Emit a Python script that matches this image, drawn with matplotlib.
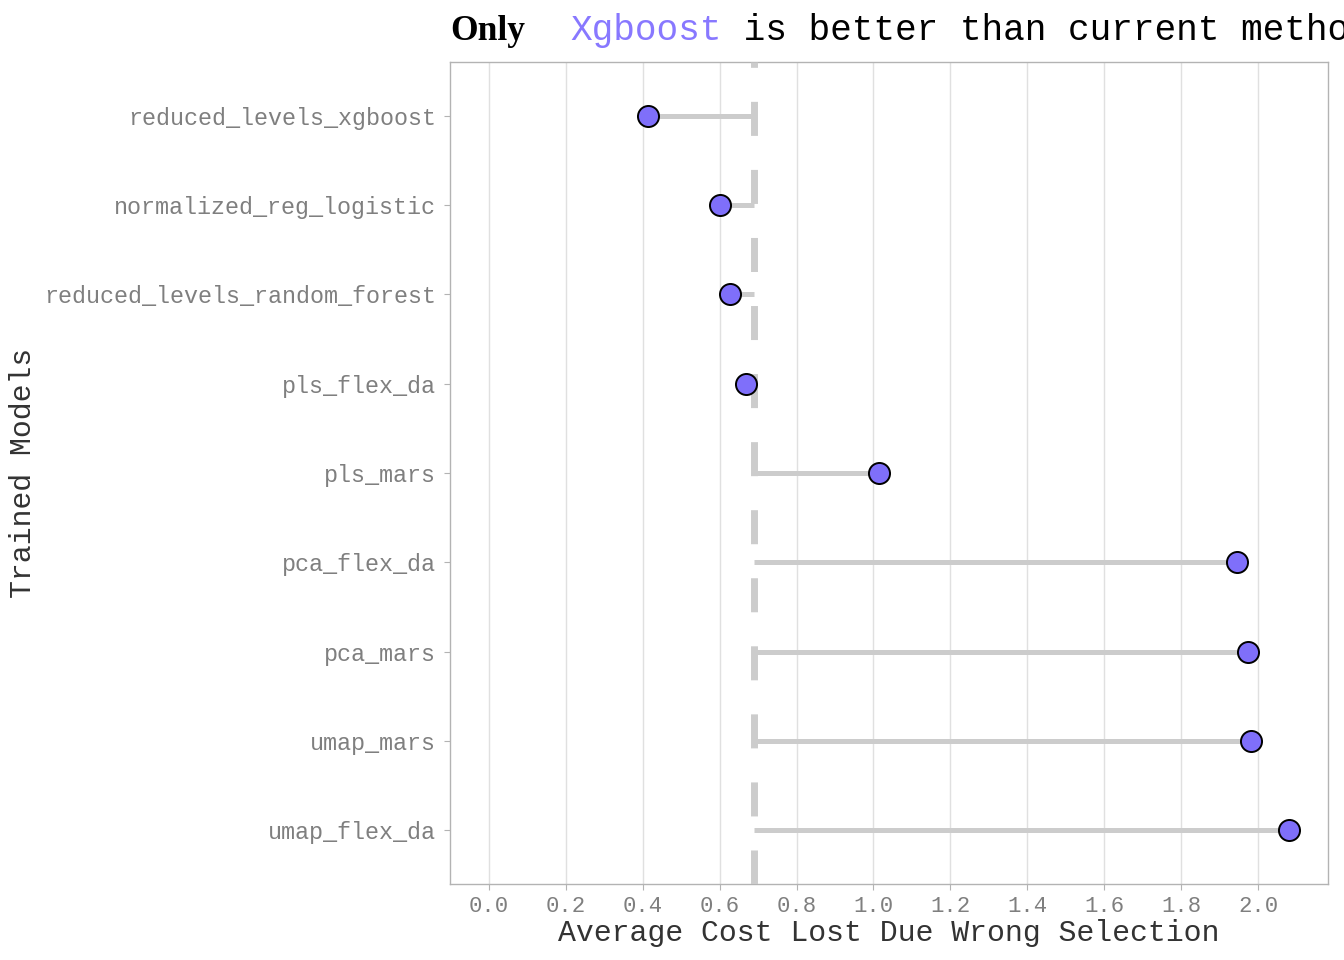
import matplotlib
matplotlib.use("Agg")
import matplotlib.pyplot as plt
import numpy as np

# data
models = ["reduced_levels_xgboost", "normalized_reg_logistic", "reduced_levels_random_forest",
          "pls_flex_da", "pls_mars", "pca_flex_da", "pca_mars", "umap_mars", "umap_flex_da"]
avg_cost = [0.414, 0.601, 0.627, 0.668, 1.014, 1.945, 1.974, 1.982, 2.081]
current_method = 0.69
x_ticks = [0.0, 0.2, 0.4, 0.6, 0.8, 1.0, 1.2, 1.4, 1.6, 1.8, 2.0]

purple = "#7F6FFA"
seg_grey = "#CCCCCC"
mono = "Liberation Mono"

fig = plt.figure(figsize=(13.44, 9.6), dpi=100)
ax = fig.add_axes([450 / 1344, 1 - 884 / 960, 878 / 1344, 822 / 960])

# top model at the top
y_pos = np.arange(len(models))[::-1] + 1

ax.hlines(y_pos, current_method, avg_cost, color=seg_grey, linewidth=3.6, zorder=2, capstyle="butt")
ax.axvline(current_method, color=seg_grey, linewidth=5, linestyle=(0, (4.9, 4.9)), zorder=3)
ax.scatter(avg_cost, y_pos, s=230, color=purple, edgecolor="black", linewidth=1.4, zorder=4)

ax.set_xlim(-0.101, 2.182)
ax.set_ylim(0.4, len(models) + 0.6)
ax.set_xticks(x_ticks)
ax.set_xticklabels([f"{v:.1f}" for v in x_ticks], fontfamily=mono, fontsize=16, color="#7F7F7F")
ax.set_yticks(y_pos)
ax.set_yticklabels(models, fontfamily=mono, fontsize=16.8, color="#7F7F7F")
ax.tick_params(axis="both", length=4, width=0.8, color="#B3B3B3")
ax.tick_params(axis="x", pad=5)
ax.tick_params(axis="y", pad=6)

ax.grid(axis="x", color="#E0E0E0", linewidth=1)
ax.set_axisbelow(True)
for sp in ax.spines.values():
    sp.set_color("#B3B3B3")
    sp.set_linewidth(1)

ax.set_xlabel("Average Cost Lost Due Wrong Selection", fontfamily=mono, fontsize=21.5, color="#333333")
ax.set_ylabel("Trained Models", fontfamily=mono, fontsize=21.5, color="#333333")
ax.xaxis.set_label_coords(0.5, -0.043)
ax.yaxis.set_label_coords(-0.470, 0.5)

# title built from pieces (runs past the right edge, as in the original)
t1 = fig.text(450 / 1344, 1 - 40 / 960, "Only", fontfamily="Liberation Serif", fontweight="bold",
              fontsize=25.5, color="black", va="baseline")
t2 = ax.annotate("Xgboost", xy=(1, 0), xycoords=t1, xytext=(33, 0), textcoords="offset points",
                 fontfamily=mono, fontsize=26, color="#8878FF", va="bottom")
t3 = ax.annotate(" is better than current method", xy=(1, 0), xycoords=t2, xytext=(0, 0),
                 textcoords="offset points", fontfamily=mono, fontsize=26, color="black", va="bottom",
                 annotation_clip=False)

fig.savefig("out.png", dpi=100)
